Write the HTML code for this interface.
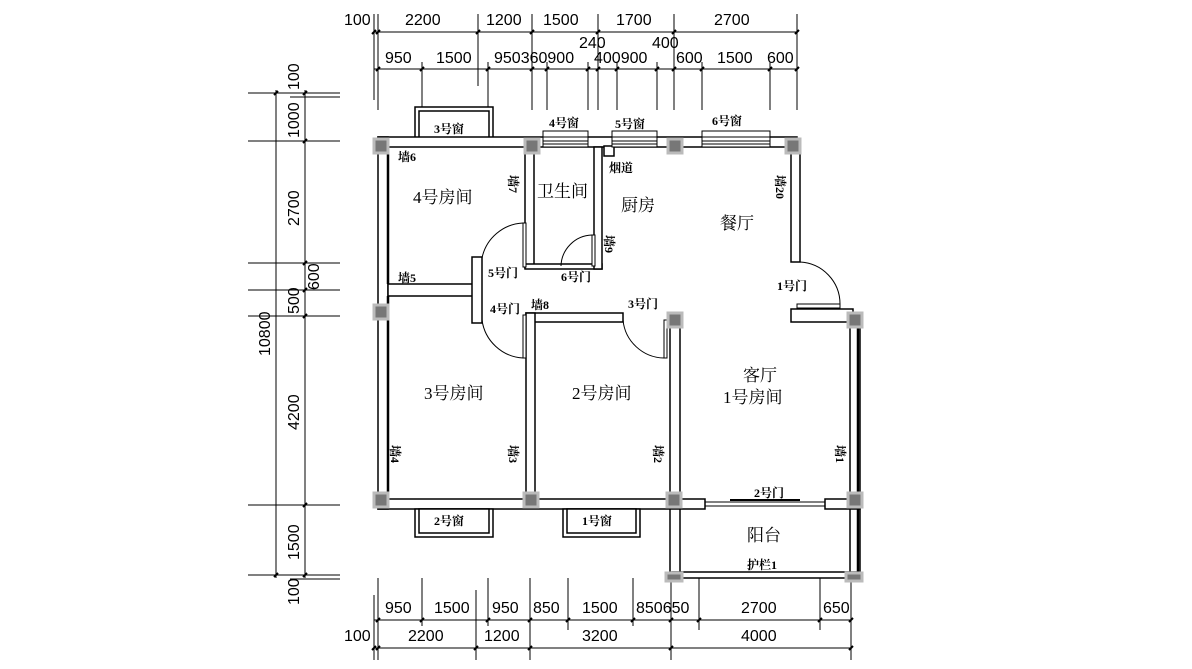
<!DOCTYPE html>
<html><head><meta charset="utf-8"><style>
html,body{margin:0;padding:0;background:#fff;}
svg{display:block;}
.d{font-family:"Liberation Sans","Noto Sans CJK SC",sans-serif;font-size:16px;fill:#000;}
.r{font-family:"Liberation Serif","Noto Serif CJK SC",serif;font-size:17px;fill:#000;}
.s{font-family:"Liberation Serif","Noto Serif CJK SC",serif;font-size:12px;font-weight:bold;fill:#000;}
</style></head><body>
<svg width="1192" height="669" viewBox="0 0 1192 669" xmlns="http://www.w3.org/2000/svg">
<rect width="1192" height="669" fill="#fff"/>
<g stroke="#000" stroke-width="1" fill="none">
<!-- top dims -->
<line x1="374" y1="32" x2="797" y2="32"/>
<line x1="374" y1="69" x2="797" y2="69"/>
<g>
<line x1="374" y1="14" x2="374" y2="100"/><line x1="378" y1="14" x2="378" y2="110"/>
<line x1="478" y1="14" x2="478" y2="86"/><line x1="532" y1="14" x2="532" y2="110"/>
<line x1="598" y1="14" x2="598" y2="110"/><line x1="674" y1="14" x2="674" y2="110"/>
<line x1="797" y1="14" x2="797" y2="110"/>
<line x1="422" y1="62" x2="422" y2="110"/><line x1="488" y1="62" x2="488" y2="110"/>
<line x1="547" y1="62" x2="547" y2="110"/><line x1="588" y1="62" x2="588" y2="110"/>
<line x1="617" y1="62" x2="617" y2="110"/><line x1="657" y1="62" x2="657" y2="110"/>
<line x1="702" y1="62" x2="702" y2="110"/><line x1="770" y1="62" x2="770" y2="110"/>
</g>
<!-- left dims -->
<line x1="276" y1="90" x2="276" y2="578"/>
<line x1="305" y1="90" x2="305" y2="578"/>
<line x1="248" y1="93" x2="340" y2="93"/><line x1="290" y1="97" x2="340" y2="97"/>
<line x1="248" y1="141" x2="340" y2="141"/>
<line x1="248" y1="263" x2="340" y2="263"/>
<line x1="248" y1="290" x2="340" y2="290"/>
<line x1="248" y1="316" x2="340" y2="316"/>
<line x1="248" y1="505" x2="340" y2="505"/>
<line x1="248" y1="575" x2="340" y2="575"/><line x1="290" y1="579" x2="340" y2="579"/>
<!-- bottom dims -->
<line x1="374" y1="620" x2="852" y2="620"/>
<line x1="374" y1="648" x2="852" y2="648"/>
<line x1="374" y1="595" x2="374" y2="660"/><line x1="378" y1="578" x2="378" y2="660"/>
<line x1="422" y1="578" x2="422" y2="626"/><line x1="476" y1="590" x2="476" y2="660"/>
<line x1="488" y1="578" x2="488" y2="626"/><line x1="530" y1="578" x2="530" y2="660"/>
<line x1="568" y1="578" x2="568" y2="630"/><line x1="633" y1="578" x2="633" y2="626"/>
<line x1="671" y1="578" x2="671" y2="660"/><line x1="699" y1="578" x2="699" y2="630"/>
<line x1="820" y1="578" x2="820" y2="630"/><line x1="851" y1="578" x2="851" y2="660"/>
</g>
<!-- tick marks -->
<g stroke="#000" stroke-width="2">
<path d="M372 34l4-4M376 34l4-4M476 34l4-4M530 34l4-4M596 34l4-4M672 34l4-4M795 34l4-4"/>
<path d="M376 71l4-4M420 71l4-4M486 71l4-4M530 71l4-4M545 71l4-4M586 71l4-4M596 71l4-4M615 71l4-4M655 71l4-4M672 71l4-4M700 71l4-4M768 71l4-4M795 71l4-4"/>
<path d="M274 95l4-4M303 95l4-4M303 143l4-4M303 265l4-4M303 292l4-4M303 318l4-4M303 507l4-4M274 577l4-4M303 577l4-4"/>
<path d="M376 622l4-4M420 622l4-4M486 622l4-4M528 622l4-4M566 622l4-4M631 622l4-4M669 622l4-4M697 622l4-4M818 622l4-4M849 622l4-4"/>
<path d="M372 650l4-4M376 650l4-4M474 650l4-4M528 650l4-4M669 650l4-4M849 650l4-4"/>
</g>
<!-- dim text -->
<g class="d">
<text x="344" y="25">100</text><text x="405" y="25">2200</text><text x="486" y="25">1200</text>
<text x="543" y="25">1500</text><text x="616" y="25">1700</text><text x="714" y="25">2700</text>
<text x="579" y="48">240</text><text x="652" y="48">400</text>
<text x="385" y="63">950</text><text x="436" y="63">1500</text><text x="494" y="63">950360900</text>
<text x="594" y="63">400900</text><text x="676" y="63">600</text><text x="717" y="63">1500</text><text x="767" y="63">600</text>
<text x="385" y="613">950</text><text x="434" y="613">1500</text><text x="492" y="613">950</text>
<text x="533" y="613">850</text><text x="582" y="613">1500</text><text x="636" y="613">850650</text>
<text x="741" y="613">2700</text><text x="823" y="613">650</text>
<text x="344" y="641">100</text><text x="408" y="641">2200</text><text x="484" y="641">1200</text>
<text x="582" y="641">3200</text><text x="741" y="641">4000</text>
<text transform="translate(299,90) rotate(-90)">100</text>
<text transform="translate(299,138) rotate(-90)">1000</text>
<text transform="translate(299,226) rotate(-90)">2700</text>
<text transform="translate(299,314) rotate(-90)">500</text>
<text transform="translate(319,290) rotate(-90)">600</text>
<text transform="translate(270,356) rotate(-90)">10800</text>
<text transform="translate(299,430) rotate(-90)">4200</text>
<text transform="translate(299,560) rotate(-90)">1500</text>
<text transform="translate(299,605) rotate(-90)">100</text>
</g>
<!-- walls -->
<g stroke="#000" stroke-width="1.5" fill="#fff">
<rect x="415" y="107" width="78" height="33"/><rect x="419" y="111" width="70" height="29"/>
<rect x="378" y="137" width="419" height="10"/>
<rect x="378" y="137" width="10" height="372"/>
<rect x="388" y="284" width="85" height="12"/>
<rect x="472" y="257" width="10" height="66"/>
<rect x="525" y="147" width="9" height="121"/>
<rect x="525" y="264" width="77" height="5"/>
<rect x="594" y="147" width="8" height="122"/>
<rect x="526" y="313" width="97" height="9"/>
<rect x="526" y="313" width="9" height="192"/>
<rect x="670" y="318" width="10" height="262"/>
<rect x="791" y="147" width="9" height="115"/>
<rect x="791" y="309" width="62" height="13"/>
<rect x="850" y="318" width="10" height="262"/>
<rect x="378" y="499" width="327" height="10"/>
<rect x="825" y="499" width="35" height="10"/>
<rect x="672" y="572" width="186" height="6"/>
<rect x="415" y="509" width="78" height="28"/><rect x="419" y="509" width="70" height="24"/>
<rect x="563" y="509" width="77" height="28"/><rect x="567" y="509" width="69" height="24"/>
<rect x="604" y="146" width="10" height="10"/>
</g>
<!-- heavier inner lines -->
<g stroke="#000" stroke-width="2.5" fill="none">
<line x1="388" y1="147" x2="388" y2="284"/><line x1="388" y1="296" x2="388" y2="499"/>
<line x1="858" y1="318" x2="858" y2="578"/>
</g>
<!-- windows top -->
<g stroke="#000" stroke-width="1" fill="#fff">
<rect x="543" y="131" width="45" height="16"/><line x1="543" y1="137" x2="588" y2="137"/><line x1="543" y1="141" x2="588" y2="141"/><line x1="543" y1="144" x2="588" y2="144"/>
<rect x="612" y="131" width="45" height="16"/><line x1="612" y1="137" x2="657" y2="137"/><line x1="612" y1="141" x2="657" y2="141"/><line x1="612" y1="144" x2="657" y2="144"/>
<rect x="702" y="131" width="68" height="16"/><line x1="702" y1="137" x2="770" y2="137"/><line x1="702" y1="141" x2="770" y2="141"/><line x1="702" y1="144" x2="770" y2="144"/>
</g>
<!-- doors -->
<g stroke="#000" stroke-width="1" fill="#fff">
<rect x="523" y="223" width="3" height="44"/>
<path d="M523 223 A44 44 0 0 0 482 258" fill="none"/>
<rect x="523" y="315" width="3" height="43"/>
<path d="M482 320 A44 44 0 0 0 523 358" fill="none"/>
<rect x="592" y="235" width="3" height="31"/>
<path d="M592 235 A32 32 0 0 0 561 266" fill="none"/>
<rect x="664" y="320" width="3" height="38"/>
<path d="M623 320 A42 42 0 0 0 664 358" fill="none"/>
<rect x="797" y="304" width="43" height="4"/>
<path d="M800 262 A42 42 0 0 1 840 304" fill="none"/>
<line x1="705" y1="502" x2="825" y2="502"/><line x1="705" y1="506" x2="825" y2="506"/>
<line x1="730" y1="500" x2="800" y2="500" stroke-width="2"/>
</g>
<!-- columns -->
<g fill="#777" stroke="#bbb" stroke-width="3">
<rect x="374" y="139" width="14" height="14"/><rect x="525" y="139" width="14" height="14"/>
<rect x="668" y="139" width="14" height="14"/><rect x="786" y="139" width="14" height="14"/>
<rect x="374" y="305" width="14" height="14"/><rect x="668" y="313" width="14" height="14"/>
<rect x="848" y="313" width="14" height="14"/>
<rect x="374" y="493" width="14" height="14"/><rect x="524" y="493" width="14" height="14"/>
<rect x="667" y="493" width="14" height="14"/><rect x="848" y="493" width="14" height="14"/>
<rect x="666" y="573" width="16" height="8"/><rect x="846" y="573" width="16" height="8"/>
</g>
<!-- labels -->
<g class="r">
<text x="413" y="203">4号房间</text><text x="537" y="197">卫生间</text><text x="621" y="211">厨房</text>
<text x="720" y="229">餐厅</text><text x="424" y="399">3号房间</text><text x="572" y="399">2号房间</text>
<text x="743" y="381">客厅</text><text x="723" y="403">1号房间</text><text x="747" y="541">阳台</text>
</g>
<g class="s">
<text x="398" y="161">墙6</text><text x="398" y="282">墙5</text><text x="488" y="277">5号门</text>
<text x="561" y="281">6号门</text><text x="490" y="313">4号门</text><text x="531" y="309">墙8</text>
<text x="628" y="308">3号门</text><text x="777" y="290">1号门</text><text x="754" y="497">2号门</text>
<text x="609" y="172">烟道</text><text x="747" y="569">护栏1</text>
<text x="434" y="133">3号窗</text><text x="549" y="127">4号窗</text><text x="615" y="128">5号窗</text><text x="712" y="125">6号窗</text>
<text x="434" y="525">2号窗</text><text x="582" y="525">1号窗</text>
<text transform="translate(509,175) rotate(90)">墙7</text>
<text transform="translate(605,235) rotate(90)">墙9</text>
<text transform="translate(776,175) rotate(90)">墙20</text>
<text transform="translate(391,445) rotate(90)">墙4</text>
<text transform="translate(509,445) rotate(90)">墙3</text>
<text transform="translate(654,445) rotate(90)">墙2</text>
<text transform="translate(836,445) rotate(90)">墙1</text>
</g>
</svg>
</body></html>
